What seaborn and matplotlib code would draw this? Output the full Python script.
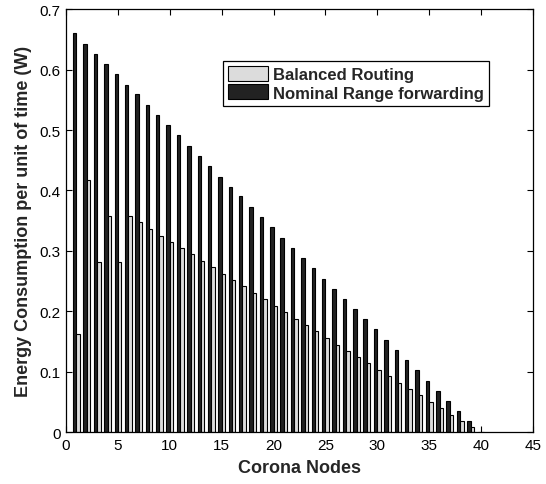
import matplotlib
matplotlib.use("Agg")
import matplotlib.pyplot as plt
import seaborn as sns
import pandas as pd
from matplotlib.patches import Patch

nodes = list(range(1, 41))
nominal = [0.660, 0.643, 0.626, 0.609, 0.592, 0.575, 0.559, 0.542, 0.525, 0.508,
           0.491, 0.474, 0.457, 0.440, 0.423, 0.406, 0.390, 0.373, 0.356, 0.339,
           0.322, 0.305, 0.288, 0.271, 0.254, 0.237, 0.221, 0.204, 0.187, 0.170,
           0.153, 0.136, 0.119, 0.102, 0.085, 0.068, 0.052, 0.035, 0.018, 0.001]
balanced = [0.163, 0.418, 0.281, 0.358, 0.281, 0.358, 0.347, 0.336, 0.325, 0.315,
            0.305, 0.294, 0.283, 0.273, 0.262, 0.252, 0.241, 0.230, 0.220, 0.209,
            0.198, 0.188, 0.177, 0.167, 0.156, 0.145, 0.135, 0.124, 0.114, 0.103,
            0.093, 0.082, 0.072, 0.061, 0.050, 0.040, 0.029, 0.019, 0.008, 0.001]
series_names = ["Balanced Routing", "Nominal Range forwarding"]
xticks = [0, 5, 10, 15, 20, 25, 30, 35, 40, 45]
yticks = [0, 0.1, 0.2, 0.3, 0.4, 0.5, 0.6, 0.7]

df = pd.DataFrame({
    "node": nodes * 2,
    "value": nominal + balanced,
    "series": [series_names[1]] * len(nodes) + [series_names[0]] * len(nodes),
})

sns.set_style("white")
plt.rcParams['font.family'] = ['Liberation Sans', 'DejaVu Sans']

fig = plt.figure(figsize=(5.46, 4.85), dpi=100)
ax = fig.add_axes([0.121, 0.107, 0.855, 0.872])

colors = {series_names[0]: "#dcdcdc", series_names[1]: "#222222"}
sns.barplot(data=df, x="node", y="value", hue="series", native_scale=True,
            hue_order=[series_names[1], series_names[0]], palette=colors,
            dodge=True, width=0.66, edgecolor="black", linewidth=0.8,
            legend=False, ax=ax)

ax.set_xlim(0, 45)
ax.set_ylim(0, 0.7)
ax.set_xticks(xticks)
ax.set_xticklabels([str(t) for t in xticks], fontsize=11)
ax.set_yticks(yticks)
ax.set_yticklabels(["0"] + [f"{t:.1f}" for t in yticks[1:]], fontsize=11)
ax.tick_params(direction="in", length=4, width=0.8, top=True, right=True,
               bottom=True, left=True, pad=4, colors="black")
for s in ax.spines.values():
    s.set_visible(True)
    s.set_color("black")
    s.set_linewidth(0.9)
ax.set_xlabel("Corona Nodes", fontsize=13, fontweight="bold", labelpad=5)
ax.set_ylabel("Energy Consumption per unit of time (W)", fontsize=13,
              fontweight="bold", labelpad=5)

handles = [Patch(facecolor=colors[n], edgecolor="black", linewidth=0.8) for n in series_names]
leg = ax.legend(handles, series_names, loc="upper left", bbox_to_anchor=(0.336, 0.878),
                frameon=True, fancybox=False, edgecolor="black", framealpha=1,
                prop={"weight": "bold", "size": 12}, handlelength=2.4, handleheight=1.0,
                handletextpad=0.3, borderpad=0.3, labelspacing=0.15, borderaxespad=0)
leg.get_frame().set_linewidth(0.9)

fig.savefig("out.png", dpi=100)
